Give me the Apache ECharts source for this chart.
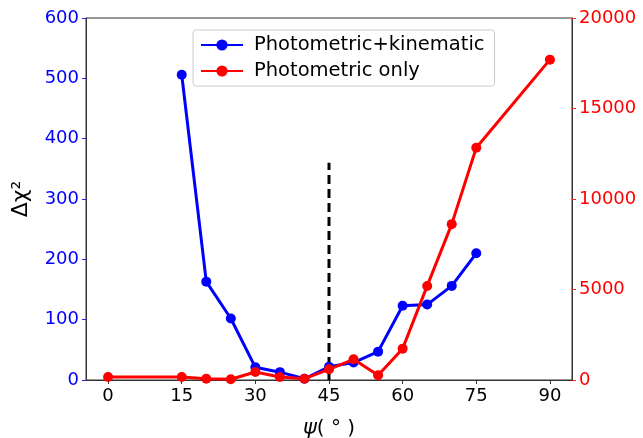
<!DOCTYPE html>
<html><head><meta charset="utf-8">
<script src="https://cdn.jsdelivr.net/npm/echarts@6/dist/echarts.min.js"></script>
<style>html,body{margin:0;padding:0;background:#fff}#c{width:643px;height:438px}</style>
</head><body><div id="c"></div>
<script>
const psiKin = [15,20,25,30,35,40,45,50,55,60,65,70,75];
const chiKin = [506,163,102,21,13,2,22,29,47,123,125,156,210];
const psiPhot = [0,15,20,25,30,35,40,45,50,55,60,65,70,75,90];
const chiPhot = [170,166,72,40,442,166,72,591,1143,258,1732,5198,8610,12830,17700];
const vlineX = [45,45];
const vlineY = [0,360];
const xTicks = [0,15,30,45,60,75,90];
const leftTicks = [0,100,200,300,400,500,600];
const rightTicks = [0,5000,10000,15000,20000];

const F = 'DejaVu Sans';
const chart = echarts.init(document.getElementById('c'));
chart.setOption({
  animation:false,
  textStyle:{fontFamily:F},
  grid:{left:86,right:71,top:18,bottom:58,show:true,borderColor:'#333',borderWidth:1,
        containLabel:false, outerBoundsMode:'none'},
  legend:{
    orient:'vertical', left:193, top:30,
    backgroundColor:'#fff', borderColor:'#ccc', borderWidth:1, borderRadius:3,
    padding:[5,10,5,7], itemGap:6, itemWidth:42, itemHeight:14,
    textStyle:{fontFamily:F,fontSize:19.5,color:'#000',padding:[0,0,0,6]},
    data:['Photometric+kinematic','Photometric only']
  },
  xAxis:{
    type:'value', min:-4.5, max:94.5,
    axisLine:{show:true,onZero:false,lineStyle:{color:'#333'}},
    axisTick:{show:true,customValues:xTicks,length:4,lineStyle:{color:'#333'}},
    axisLabel:{customValues:xTicks,fontSize:18,color:'#000',margin:7,fontFamily:F},
    splitLine:{show:false},
    name:'{i|ψ}( ° )', nameLocation:'middle', nameGap:38,
    nameTextStyle:{fontSize:20,color:'#000',fontFamily:F,rich:{i:{fontStyle:'italic',fontSize:21,fontFamily:F}}}
  },
  yAxis:[{
    type:'value', min:0, max:600, interval:100, position:'left',
    axisLine:{show:true,onZero:false,lineStyle:{color:'#333'}},
    axisTick:{show:true,length:4,lineStyle:{color:'#2222ff'}},
    axisLabel:{fontSize:18,color:'#0000ff',margin:7,fontFamily:F},
    splitLine:{show:false},
    name:'Δχ²', nameLocation:'middle', nameGap:54, nameRotate:90,
    nameTextStyle:{fontSize:22,color:'#000',fontFamily:F}
  },{
    type:'value', min:0, max:20000, interval:5000, position:'right',
    axisLine:{show:true,onZero:false,lineStyle:{color:'#333'}},
    axisTick:{show:true,length:4,lineStyle:{color:'#ff2222'}},
    axisLabel:{fontSize:18,color:'#ff0000',margin:7,fontFamily:F,formatter:v=>String(v)},
    splitLine:{show:false}
  }],
  series:[{
    name:'Photometric+kinematic', type:'line', yAxisIndex:0,
    data:psiKin.map((x,i)=>[x,chiKin[i]]),
    symbol:'circle', symbolSize:10, color:'#0000ff',
    lineStyle:{width:3,color:'#0000ff'}, itemStyle:{color:'#0000ff'}, z:3
  },{
    name:'Photometric only', type:'line', yAxisIndex:1,
    data:psiPhot.map((x,i)=>[x,chiPhot[i]]),
    symbol:'circle', symbolSize:10, color:'#ff0000',
    lineStyle:{width:3,color:'#ff0000'}, itemStyle:{color:'#ff0000'}, z:4
  },{
    name:'vline', type:'line', yAxisIndex:0,
    data:vlineX.map((x,i)=>[x,vlineY[i]]),
    symbol:'none', lineStyle:{width:3,color:'#000',type:[9,5]}, z:2, silent:true
  }]
});
</script></body></html>
